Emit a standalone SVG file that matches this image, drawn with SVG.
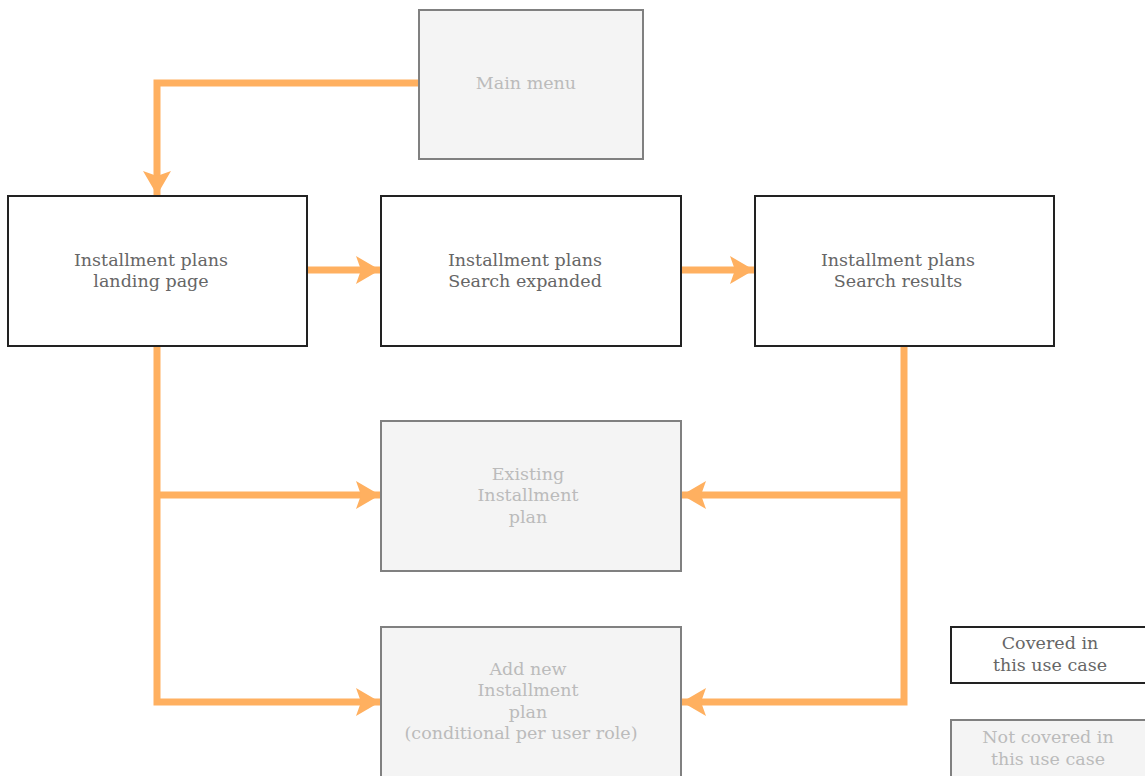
<svg xmlns="http://www.w3.org/2000/svg" width="1145" height="776" viewBox="0 0 1145 776">
<style>
.on rect{fill:#fff;stroke:#222;stroke-width:2}
.off rect{fill:#f4f4f4;stroke:#808080;stroke-width:2}
text{font-family:"DejaVu Serif","Liberation Serif",serif;font-size:17.5px;text-anchor:middle}
.on text{fill:#666}
.off text{fill:#bbb}
.c path{fill:none;stroke:#FFB060;stroke-width:7;marker-end:url(#a)}
</style>
<defs>
<marker id="a" markerUnits="userSpaceOnUse" markerWidth="30" markerHeight="30" viewBox="0 0 30 30" refX="27" refY="15" orient="auto">
<path d="M27,15 L3,1 L8,15 L3,29 Z" fill="#FFB060"/>
</marker>
</defs>
<rect width="1145" height="776" fill="#fff"/>
<g class="c">
<path d="M419,83 H157 V195"/>
<path d="M307,270 H380"/>
<path d="M681,270 H754"/>
<path d="M157,346 V702 H380"/>
<path d="M157,495 H380"/>
<path d="M904,346 V702 H682"/>
<path d="M904,495 H682"/>
</g>
<g id="main-menu" class="off"><rect x="419" y="10" width="224" height="149"/><text x="526" y="89">Main menu</text></g>
<g id="landing" class="on"><rect x="8" y="196" width="299" height="150"/><text x="151" y="266">Installment plans</text><text x="151" y="287">landing page</text></g>
<g id="search-expanded" class="on"><rect x="381" y="196" width="300" height="150"/><text x="525" y="266">Installment plans</text><text x="525" y="287">Search expanded</text></g>
<g id="search-results" class="on"><rect x="755" y="196" width="299" height="150"/><text x="898" y="266">Installment plans</text><text x="898" y="287">Search results</text></g>
<g id="existing" class="off"><rect x="381" y="421" width="300" height="150"/><text x="528" y="480">Existing</text><text x="528" y="501">Installment</text><text x="528" y="523">plan</text></g>
<g id="add-new" class="off"><rect x="381" y="627" width="300" height="160"/><text x="528" y="675">Add new</text><text x="528" y="696">Installment</text><text x="528" y="718">plan</text><text x="521" y="739">(conditional per user role)</text></g>
<g id="legend-covered" class="on"><rect x="951" y="627" width="200" height="56"/><text x="1050" y="649">Covered in</text><text x="1050" y="671">this use case</text></g>
<g id="legend-not-covered" class="off"><rect x="951" y="720" width="200" height="66"/><text x="1048" y="743">Not covered in</text><text x="1048" y="765">this use case</text></g>
</svg>
